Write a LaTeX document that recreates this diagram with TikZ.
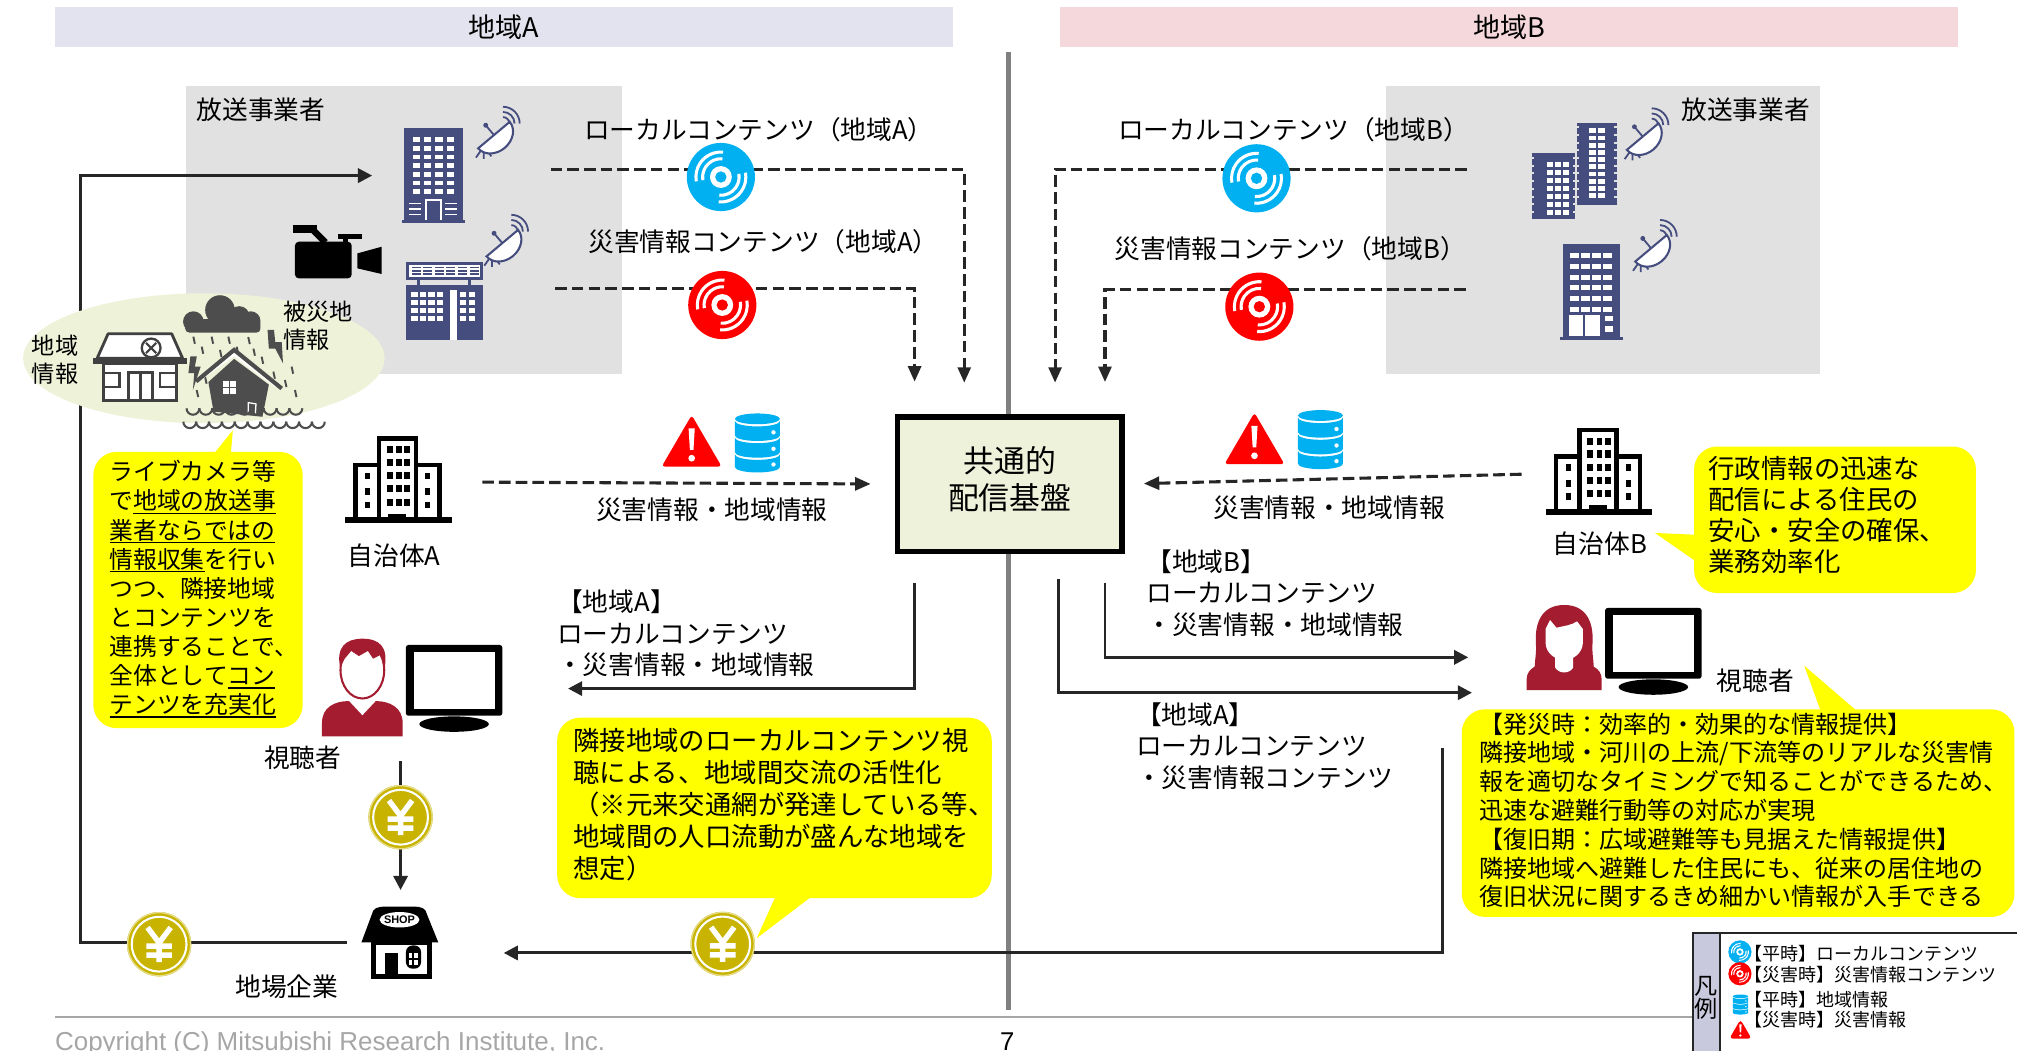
\documentclass[tikz,border=0pt]{standalone}
\usepackage{fontspec}
\setmainfont{Noto Sans CJK JP}
\newfontfamily\latinfont{Liberation Sans}
\usetikzlibrary{arrows.meta}

\definecolor{navy}{HTML}{454C7E}
\definecolor{hdrA}{HTML}{E3E3EF}
\definecolor{hdrB}{HTML}{F5D8DC}
\definecolor{panel}{HTML}{E1E1E1}
\definecolor{cdblue}{HTML}{00B0F0}
\definecolor{cdred}{HTML}{FF0000}
\definecolor{memo}{HTML}{FFFF00}
\definecolor{hubfill}{HTML}{EEF2DB}
\definecolor{fieldfill}{HTML}{EEF2D8}
\definecolor{yengold}{HTML}{C8B400}
\definecolor{viewer}{HTML}{A31C30}
\definecolor{legendband}{HTML}{C9C9DD}
\definecolor{ink}{HTML}{262626}
\definecolor{storm}{HTML}{4D4D4D}
\definecolor{icongray}{HTML}{404040}
\definecolor{rulegray}{HTML}{808080}
\definecolor{copygray}{HTML}{A6A6A6}

% underlined phrase in the memo text
\newcommand{\memoline}[1]{\setbox0=\hbox{#1}\rlap{\rule[-3.2pt]{\wd0}{0.9pt}}\box0}
\lineskiplimit=-20pt

\begin{document}
\begin{tikzpicture}[x=1pt, y=-1pt,
    lbl/.style={inner sep=0pt, font=\fontsize{20}{24}\selectfont},
    blocklbl/.style={inner sep=0pt, anchor=west, align=left, font=\fontsize{20}{24.6}\selectfont},
    memotxt/.style={inner sep=0pt, anchor=west, align=left},
    band/.style={inner sep=0pt, minimum width=698.4pt, minimum height=30.6pt, font=\fontsize{21}{24}\selectfont},
    hub/.style={draw=black, line width=4pt, fill=hubfill, minimum width=174.4pt, minimum height=104.2pt},
    spot/.style 2 args={inner sep=0pt, minimum width=#1, minimum height=#2},
    dashflow/.style={draw=ink, line width=2.4pt, dash pattern=on 9pt off 4pt, -{Triangle[length=12pt, width=10pt]}},
    flow/.style={draw=ink, line width=2.3pt, -{Triangle[length=11pt, width=11pt]}},
    legtxt/.style={inner sep=0pt, anchor=west, font=\fontsize{14}{16}\selectfont},
    % content disc
    pics/cdisc/.style={code={
      \fill[#1] (0,0) circle[radius=26.5];
      \fill[white] (0,0) circle[radius=8.5];
      \fill[#1] (0,0) circle[radius=4.4];
      \foreach \ra/\rb in {13/15.4, 18.2/20.6}{
        \fill[white] (170:\ra) arc[start angle=170, end angle=275, radius=\ra]
          -- (275:\rb) arc[start angle=275, end angle=170, radius=\rb] -- cycle;
        \fill[white] (-10:\ra) arc[start angle=-10, end angle=95, radius=\ra]
          -- (95:\rb) arc[start angle=95, end angle=-10, radius=\rb] -- cycle;
      }
    }},
    % database
    pics/dbase/.style={code={
      \fill[cdblue] (0,-19) ellipse[x radius=17.5, y radius=4.2];
      \foreach \ca/\cb in {-17.3/-6, -4.3/7, 8.7/18.5}
        \fill[cdblue] (-17.5,\ca) arc[start angle=180, end angle=0, x radius=17.5, y radius=4.2]
          -- (17.5,\cb) arc[start angle=0, end angle=180, x radius=17.5, y radius=4.2] -- cycle;
      \foreach \dy in {-8.5,4.3,16.5}
        \fill[white] (12.5,\dy) circle[radius=1.7];
    }},
    % warning sign
    pics/alert/.style={code={
      \fill[cdred, rounded corners=2.5pt] (0,-20) -- (23.3,20) -- (-23.3,20) -- cycle;
      \fill[white] (-2.4,-9.7) -- (2.4,-9.7) -- (1.4,7) -- (-1.4,7) -- cycle;
      \fill[white] (0,13.5) circle[radius=2.6];
    }},
    % yen coin
    pics/yen/.style={code={
      \fill[yengold] (0,0) circle[radius=25];
      \draw[yengold!45!white, line width=1pt] (0,0) circle[radius=24.5];
      \draw[white, line width=1.6pt] (0,0) circle[radius=21.3];
      \draw[white, line width=4.2pt] (-9,-13) -- (0,-1) -- (9,-13) (0,-1) -- (0,14)
        (-10,1.5) -- (10,1.5) (-10,8.5) -- (10,8.5);
    }},
    % monitor
    pics/screen/.style={code={
      \fill[black, rounded corners=2pt] (-37.5,-27.5) rectangle (37.5,27.5);
      \fill[white] (-31.5,-22) rectangle (31.5,22);
      \fill[black] (0,34) ellipse[x radius=27, y radius=6];
    }},
    % satellite dish
    pics/dish/.style={code={
      \draw[navy, line width=1.4pt] (-8,9) -- (-14,17.5) (-8,9) -- (-8,18.5) (-8,9) -- (-2,16.5);
      \begin{scope}[rotate=40]
        \filldraw[fill=white, draw=navy, line width=1.6pt] (-16,0) arc[start angle=180, end angle=0, x radius=16, y radius=13] -- cycle;
        \draw[navy, line width=1.4pt] (0,0) -- (0,-10);
        \fill[navy] (0,-10) circle[radius=1.9];
      \end{scope}
      \foreach \r in {5,9,13}
        \draw[navy, line width=1.4pt] (7,-9) ++(270:\r) arc[start angle=270, end angle=360, radius=\r];
    }},
    % municipal office
    pics/cityhall/.style={code={
      \draw[black, line width=3.6pt] (-14.6,29) -- (-14.6,-34) -- (14.2,-34) -- (14.2,29);
      \draw[black, line width=3.6pt] (-14.6,-13.2) -- (-32.8,-13.2) -- (-32.8,29)
        (14.2,-13.2) -- (32.3,-13.2) -- (32.3,29);
      \fill[black] (-41,27.5) rectangle (41.9,32.1);
      \foreach \wx in {-8.6,-1.4,5.1}
        \foreach \wy in {-28,-18,-7.5,2.5,13}
          \fill[black] (\wx,\wy) rectangle ++(4.6,5.5);
      \fill[black] (-7.4,24.5) rectangle (6.8,29);
      \foreach \wy in {-7.2,4.9,15.3}{
        \fill[black] (-25.5,\wy) rectangle ++(4,5.2);
        \fill[black] (21.2,\wy) rectangle ++(4,5.2);}
    }}
  ]
  \useasboundingbox (0,0) rectangle (1568,817);

  % Region headers and divider
  \node[band, fill=hdrA] (hdrA) at (391.8,21) {地域A};
  \node[band, fill=hdrB] (hdrB) at (1173.2,21) {地域B};
  \draw[rulegray, line width=3.5pt] (784,40.2) -- (784,785);
  \draw[copygray, line width=1.5pt] (42.6,790.9) -- (1316,790.9);

  % Broadcaster panels
  \fill[panel] (144.6,66.9) rectangle (483.2,291);
  \fill[panel] (1077.3,66.9) rectangle (1415.2,291);
  \node[lbl, anchor=west] (bcA) at (152.7,85.5) {放送事業者};
  \node[lbl, anchor=west] (bcB) at (1306.8,85.5) {放送事業者};

  % Broadcaster A: tower
  \node[spot={49pt}{74pt}] (towerA) at (337,136.5) {};
  \fill[navy] (314,99.5) rectangle (360,171);
  \fill[navy] (312.5,171) rectangle (361.5,173.5);
  \foreach \wx in {320.8,329.6,338.4,347.2}
    \foreach \wy in {106.7,113.5,120.3,127,133.7,140.5,147.2}
      \fill[white] (\wx,\wy) rectangle ++(5.7,3.6);
  \draw[white, line width=1.2pt] (331,171) -- (331,155.5) -- (342.7,155.5) -- (342.7,171);
  \foreach \wy in {158,162.5,167}{
    \draw[white, line width=1pt] (318,\wy) -- (327.5,\wy);
    \draw[white, line width=1pt] (346,\wy) -- (355.5,\wy);}
  \pic at (384,105) {dish};

  % Broadcaster A: studio with sign
  \fill[navy] (315.6,203.4) rectangle (375.7,217.7);
  \fill[white] (318,205.7) rectangle (373.3,215.4);
  \foreach \sx in {320,329,338,347,356,365}
    \foreach \sy in {207.2,209.9,212.6}
      \fill[navy] (\sx,\sy) rectangle ++(7,1.3);
  \fill[navy] (324,217.7) rectangle (326.5,221.3);
  \fill[navy] (364,217.7) rectangle (366.5,221.3);
  \fill[navy] (315.6,221.3) rectangle (375.7,264.3);
  \foreach \wy in {227,233.2,239.4,245.6}{
    \foreach \wx in {319.7,326.3,332.9,339.5}
      \fill[white] (\wx,\wy) rectangle ++(5,4.2);
    \foreach \wx in {357.5,364.5}
      \fill[white] (\wx,\wy) rectangle ++(5,4.2);}
  \fill[white] (349.8,225.4) rectangle (355,264.3);
  \pic at (390.5,189) {dish};

  % Camera
  \fill[black, rounded corners=3pt] (229.3,187.9) rectangle (273.4,216.4);
  \fill[black] (228,174.9) rectangle (246.2,180.9);
  \draw[black, line width=5pt] (242,177.5) -- (253,188.5);
  \fill[black] (263,182.2) rectangle (281.2,186);
  \fill[black] (266.5,185) rectangle (270.5,189);
  \fill[black] (277.8,197) -- (296.7,191.8) -- (296.7,213) -- (277.8,208.6) -- cycle;

  % Broadcaster B: twin blocks
  \fill[navy] (1190.7,119.2) rectangle (1224.3,170.5);
  \foreach \ny in {122,128,...,166}{
    \fill[panel] (1190.7,\ny) rectangle ++(1.8,1.6);
    \fill[panel] (1222.5,\ny) rectangle ++(1.8,1.6);}
  \foreach \wx in {1202.5,1208.8,1215.1}
    \foreach \wy in {125.7,132,138.3,144.6,150.9,157.2,163.5}
      \fill[white] (\wx,\wy) rectangle ++(4.5,4);
  \fill[navy] (1225.6,95.4) rectangle (1256.7,159.4);
  \foreach \ny in {98,104,...,156}{
    \fill[panel] (1225.6,\ny) rectangle ++(1.8,1.6);
    \fill[panel] (1254.9,\ny) rectangle ++(1.8,1.6);}
  \foreach \wx in {1235,1242}
    \foreach \wy in {99.8,105.4,111,116.6,122.2,127.8,133.4,139,144.6,150.2}
      \fill[white] (\wx,\wy) rectangle ++(5.5,3.8);
  \pic at (1277,106.2) {dish};

  % Broadcaster B: single block
  \fill[navy] (1215.3,189.7) rectangle (1259.3,262.2);
  \fill[navy] (1213,262.2) rectangle (1261.5,264.5);
  \foreach \wx in {1220.5,1229,1237.5,1246}
    \foreach \wy in {197,205.3,213.6,221.9,230.2,238.5}
      \fill[white] (\wx,\wy) rectangle ++(7,3.8);
  \fill[white] (1219.7,245) rectangle (1230.7,261.5);
  \fill[white] (1232.5,245) rectangle (1243.5,261.5);
  \fill[white] (1247.4,245.5) rectangle (1253.9,249.3);
  \fill[white] (1247.4,253.8) rectangle (1253.9,257.7);
  \pic at (1283.5,193) {dish};

  % Contents towards the common platform
  \coordinate (locA) at (428,131.6);      \coordinate (locAin) at (749.6,297.5);
  \coordinate (disA) at (431.6,224.1);    \coordinate (disAin) at (711,296.7);
  \coordinate (locB) at (1140.4,131.6);   \coordinate (locBin) at (820.2,297.5);
  \coordinate (disB) at (1139.5,225.4);   \coordinate (disBin) at (859,297);
  \draw[dashflow] (locA) -| (locAin);
  \draw[dashflow] (disA) -| (disAin);
  \draw[dashflow] (locB) -| (locBin);
  \draw[dashflow] (disB) -| (disBin);
  \pic at (560.4,137.6) {cdisc=cdblue};
  \pic at (561.5,237.1) {cdisc=cdred};
  \pic at (976.8,138.6) {cdisc=cdblue};
  \pic at (979,238.4) {cdisc=cdred};
  \node[lbl] (locAlbl) at (589.9,101) {ローカルコンテンツ（地域A）};
  \node[lbl] (disAlbl) at (593.4,187.9) {災害情報コンテンツ（地域A）};
  \node[lbl] (locBlbl) at (1005.6,101) {ローカルコンテンツ（地域B）};
  \node[lbl] (disBlbl) at (1003,193) {災害情報コンテンツ（地域B）};

  % Common platform
  \node[hub] (hub) at (785,376.3) {};
  \node[inner sep=0pt, align=center, font=\fontsize{24}{29}\selectfont] (hubtxt) at (785,372.5) {共通的\\配信基盤};

  % Municipalities
  \node[spot={83pt}{70pt}] (govA) at (309.2,374.7) {};
  \pic at (govA) {cityhall};
  \node[lbl] (govAlbl) at (306.4,432) {自治体A};
  \node[spot={83pt}{70pt}] (govB) at (1242.5,368.2) {};
  \pic at (govB) {cityhall};
  \node[lbl] (govBlbl) at (1243.8,422.3) {自治体B};
  \draw[dashflow, shorten <=24pt, shorten >=19pt] (govA.east) -- (hub.west);
  \draw[dashflow, shorten <=18pt, shorten >=15pt] (govB.west) -- (hub.east);
  \pic at (537.7,342.7) {alert};
  \pic at (588.8,344.6) {dbase};
  \pic at (975.2,340.8) {alert};
  \pic at (1026.5,342) {dbase};
  \node[lbl] (infoA) at (553.4,396.5) {災害情報・地域情報};
  \node[lbl] (infoB) at (1033.2,394.9) {災害情報・地域情報};

  % Delivery to viewers
  \coordinate (outA) at (711,453);      \coordinate (inA) at (441.6,535.3);
  \coordinate (outBB) at (859,453);     \coordinate (inBB) at (1141.4,511);
  \coordinate (outBA) at (822.8,450.4); \coordinate (inBA) at (1144.3,538.5);
  \draw[flow] (outA) |- (inA);
  \draw[flow] (outBB) |- (inBB);
  \draw[flow] (outBA) |- (inBA);
  \node[blocklbl] (pkgA) at (433,492.3) {【地域A】\\ローカルコンテンツ\\・災害情報・地域情報};
  \node[blocklbl] (pkgBB) at (891,461) {【地域B】\\ローカルコンテンツ\\・災害情報・地域情報};
  \node[blocklbl] (pkgBA) at (883,580) {【地域A】\\ローカルコンテンツ\\・災害情報コンテンツ};

  % Money flow back to local business
  \node[spot={61pt}{56pt}] (shopA) at (310.6,732.6) {};
  \coordinate (spendB) at (1121.2,581.5);
  \coordinate (spendBin) at (391.6,740.8);
  \coordinate (loopW) at (62.6,400);
  \coordinate (spendA) at (311.4,591.6);
  \draw[flow] (spendB) |- (spendBin);
  \draw[flow, shorten <=10pt, shorten >=23pt] (shopA.west) -| (loopW) |- (towerA.west);
  \draw[flow, shorten >=12.5pt] (spendA) -- (spendA |- shopA.north);
  \pic at (311.4,635.3) {yen};
  \pic at (123.7,734) {yen};
  \pic at (561.8,733.8) {yen};

  % Shop
  \fill[black] (281,732.5) -- (289,711) .. controls (290,706) and (293,704.8) .. (300,704.8)
    -- (321,704.8) .. controls (328,704.8) and (331,706) .. (332,711) -- (340.7,732.5) -- cycle;
  \fill[white] (310.6,715) ellipse[x radius=15.5, y radius=6];
  \node[inner sep=0pt, font=\latinfont\bfseries\fontsize{8.5}{9}\selectfont] (shopsign) at (310.6,715.3) {SHOP};
  \fill[black] (288.5,732) rectangle (335.5,761);
  \fill[white] (292,734.5) rectangle (332,757.5);
  \fill[black] (299,741) rectangle (309.2,761);
  \fill[black, rounded corners=5pt] (315.6,735) rectangle (327.3,753);
  \foreach \px/\py in {318/741, 322.2/741, 318/746.5, 322.2/746.5}
    \fill[white] (\px,\py) rectangle ++(2.6,4);
  \node[lbl] (shoplbl) at (222.9,767) {地場企業};

  % Regional field: local news and disaster spot
  \fill[fieldfill] (158.5,278.5) ellipse[x radius=140.5, y radius=50.5];
  \node[inner sep=0pt, align=center, font=\fontsize{18}{22}\selectfont] (fieldlocal) at (42.8,279.9) {地域\\情報};
  \node[inner sep=0pt, anchor=west, align=left, font=\fontsize{18}{22}\selectfont] (fielddis) at (220.3,253.3) {被災地\\情報};
  \filldraw[fill=white, draw=icongray, line width=2.2pt, line join=round] (84,259.5) -- (133.5,259.5) -- (142,278.6) -- (75.5,278.6) -- cycle;
  \fill[icongray] (72.5,278) rectangle (145.1,283);
  \filldraw[fill=white, draw=icongray, line width=2.2pt] (80.5,283) rectangle (137,311.3);
  \draw[icongray, line width=2pt] (100,311.3) -- (100,289.5) -- (118.5,289.5) -- (118.5,311.3) (109.2,289.5) -- (109.2,311.3);
  \draw[icongray, line width=2pt] (80.5,290) -- (93,290) -- (93,301) -- (80.5,301);
  \draw[icongray, line width=2pt] (137,290) -- (124.5,290) -- (124.5,301) -- (137,301);
  \filldraw[fill=white, draw=icongray, line width=1.8pt] (117.5,270.5) circle[radius=7.3];
  \draw[icongray, line width=1.6pt] (113.5,266.5) -- (121.5,274.5) (121.5,266.5) -- (113.5,274.5);
  % storm cloud, rain and flooded house
  \fill[storm] (150.3,250) circle[radius=8] (171,241) circle[radius=11.5] (186,246) circle[radius=8] (195,249.5) circle[radius=7.5];
  \fill[storm, rounded corners=3pt] (144,248) rectangle (202.5,258.5);
  \foreach \rx/\ry in {150.3/261.7, 156.8/269.5, 164.5/261.7, 171/272, 177.5/261.7, 184/269.5, 193/262,
      197/271, 203.4/277.3, 212.5/288.9, 221.5/295.4, 226.7/285, 229.3/303.2, 152.9/303.2, 159.4/292.8}
    \draw[storm, line width=1.5pt] (\rx,\ry) -- ++(1.2,5.5);
  \fill[storm] (148,277) -- (153,277) -- (151.5,285) -- (156,285) -- (150,303) -- (151,290) -- (146.5,290) -- cycle;
  \fill[storm] (208,256.5) -- (213,256.5) -- (214,266) -- (219,266) -- (220,282.4) -- (214,271) -- (209,271) -- cycle;
  \fill[storm] (162,297) -- (182,279) -- (209,299) -- (204,324) -- (166,320) -- cycle;
  \draw[white, line width=2.5pt] (156,294) -- (182,275.5) -- (215,300);
  \draw[storm, line width=3.2pt] (152.5,296.5) -- (182,272) -- (219,302);
  \foreach \px/\py in {173.5/296.5, 179/296.5, 173.5/302, 179/302}
    \fill[white] (\px,\py) rectangle ++(4.5,4.5);
  \draw[white, line width=1pt] (193,321) -- (193,313) -- (199,314) -- (198.5,322);
  \foreach \i in {0,...,8}
    \draw[storm, line width=1.6pt] (145+\i*10,317.4) arc[start angle=180, end angle=0, radius=5];
  \foreach \i in {0,...,10}
    \draw[storm, line width=1.6pt] (142.5+\i*10,327.8) arc[start angle=180, end angle=0, radius=5];

  % Viewers
  \fill[viewer] (250.3,572.4) -- (250.3,562) .. controls (250.3,550) and (260,545) .. (271,545)
    -- (292,545) .. controls (303,545) and (313,550) .. (313,562) -- (313,572.4) -- cycle;
  \fill[white] (271.5,545) -- (281.7,556) -- (292,545) -- cycle;
  \filldraw[fill=white, draw=viewer, line width=1.6pt] (281.7,521) ellipse[x radius=17, y radius=22];
  \fill[viewer] (264.5,519) .. controls (261,503) and (269,496.5) .. (281.7,496.5) .. controls (295,496.5) and (302,503) .. (299,519)
    -- (296,509) -- (290,512) -- (286,506) -- (279,510) -- (273,506) -- (268,512) -- cycle;
  \pic at (353,528.9) {screen};
  \node[lbl] (viewAlbl) at (235.3,589.2) {視聴者};

  \fill[viewer] (1186.8,536.4) -- (1186.8,528) .. controls (1187,519) and (1196,515.6) .. (1206,515.6)
    -- (1226,515.6) .. controls (1236,515.6) and (1245,519) .. (1245.1,528) -- (1245.1,536.4) -- cycle;
  \fill[viewer] (1216,470.3) .. controls (1198,470.3) and (1193,485) .. (1194,500) .. controls (1195,512) and (1190,522) .. (1196,530)
    -- (1236,530) .. controls (1242,522) and (1237,512) .. (1238,500) .. controls (1239,485) and (1234,470.3) .. (1216,470.3) -- cycle;
  \fill[white] (1201.5,489) -- (1205,482) -- (1210,488) .. controls (1216,486.5) and (1222,486) .. (1226,483) -- (1230.5,489)
    -- (1230.5,500) .. controls (1230,508) and (1223,513) .. (1216,513) .. controls (1209,513) and (1202,508) .. (1201.5,500) -- cycle;
  \fill[white] (1209,508) -- (1209,519) .. controls (1212,524) and (1220,524) .. (1223,519) -- (1223,508) -- cycle;
  \pic at (1285.3,500.1) {screen};
  \node[lbl] (viewBlbl) at (1364.7,528.9) {視聴者};

  % Speech bubbles
  \fill[memo, rounded corners=18pt] (72.6,351.3) rectangle (235.3,566);
  \fill[memo] (162,358) -- (181,334.5) -- (179,358) -- cycle;
  \node[memotxt, font=\fontsize{18.5}{22.6}\selectfont] (memoA) at (85,457.9)
    {ライブカメラ等\\で\memoline{地域の放送事}\\\memoline{業者ならではの}\\\memoline{情報収集}を行い\\つつ、隣接地域\\とコンテンツを\\連携することで、\\全体として\memoline{コン}\\\memoline{テンツを充実化}};

  \fill[memo, rounded corners=18pt] (433.1,557.9) rectangle (771,698.2);
  \fill[memo] (606,690) -- (588.3,729.3) -- (640,690) -- cycle;
  \node[memotxt, font=\fontsize{20.5}{25}\selectfont] (memoX) at (445.6,625.6)
    {隣接地域のローカルコンテンツ視\\聴による、地域間交流の活性化\\（※元来交通網が発達している等、\\地域間の人口流動が盛んな地域を\\想定）};

  \fill[memo, rounded corners=18pt] (1316.9,347.1) rectangle (1536.1,461);
  \fill[memo] (1325,416) -- (1286.5,414.3) -- (1325,441) -- cycle;
  \node[memotxt, font=\fontsize{20.5}{24.2}\selectfont] (memoB) at (1328,400.5)
    {行政情報の迅速な\\配信による住民の\\安心・安全の確保、\\業務効率化};

  \fill[memo, rounded corners=18pt] (1136.4,551.4) rectangle (1566,712.8);
  \fill[memo] (1418,560) -- (1402.6,517.5) -- (1452,560) -- cycle;
  \node[memotxt, font=\fontsize{18.7}{22.4}\selectfont] (memoV) at (1149.6,629.9)
    {【発災時：効率的・効果的な情報提供】\\隣接地域・河川の上流/下流等のリアルな災害情\\報を適切なタイミングで知ることができるため、\\迅速な避難行動等の対応が実現\\【復旧期：広域避難等も見据えた情報提供】\\隣接地域へ避難した住民にも、従来の居住地の\\復旧状況に関するきめ細かい情報が入手できる};

  % Legend
  \filldraw[fill=white, draw=ink, line width=1.5pt] (1316,725.5) rectangle (1580,830);
  \filldraw[fill=legendband, draw=ink, line width=1.5pt] (1316,725.5) rectangle (1337,830);
  \node[inner sep=0pt, align=center, font=\fontsize{18}{18}\selectfont] (legtitle) at (1326.5,776) {凡\\例};
  \pic[scale=0.34] at (1352.6,740) {cdisc=cdblue};
  \pic[scale=0.34] at (1352.6,757) {cdisc=cdred};
  \pic[scale=0.34] at (1353,781) {dbase};
  \pic[scale=0.37] at (1353,800) {alert};
  \node[legtxt] (leg1) at (1356,741) {【平時】ローカルコンテンツ};
  \node[legtxt] (leg2) at (1356,757.4) {【災害時】災害情報コンテンツ};
  \node[legtxt] (leg3) at (1356,777) {【平時】地域情報};
  \node[legtxt] (leg4) at (1356,793) {【災害時】災害情報};

  % Footer
  \node[anchor=base west, inner sep=0pt, text=copygray, font=\latinfont\fontsize{20.2}{22}\selectfont] (copy) at (42.6,817)
    {Copyright (C) Mitsubishi Research Institute, Inc.};
  \node[anchor=base, inner sep=0pt, font=\latinfont\fontsize{20}{20}\selectfont] (pageno) at (783,817) {7};
\end{tikzpicture}
\end{document}
